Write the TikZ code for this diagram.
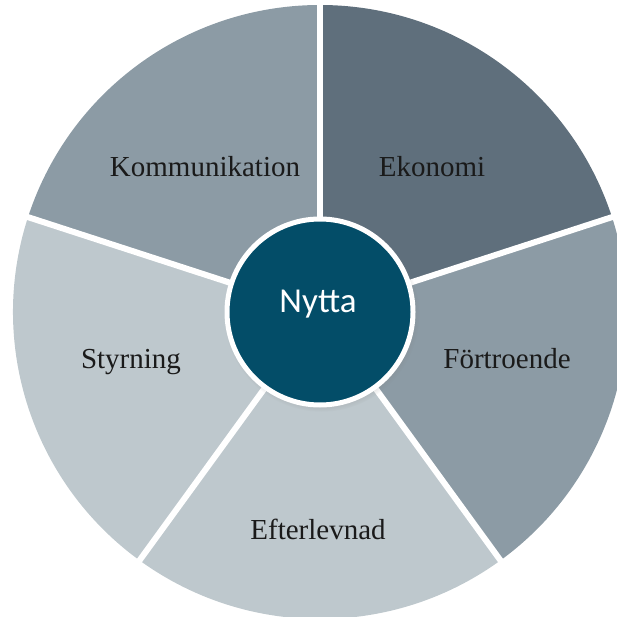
\documentclass[tikz,border=0pt]{standalone}
\usepackage{fontspec}
\setmainfont{Liberation Serif}
\newfontfamily\hubfont{Carlito}
\usetikzlibrary{positioning, shadows}
\definecolor{slatedark}{HTML}{5F6F7C}
\definecolor{slatemid}{HTML}{8C9BA5}
\definecolor{slatelight}{HTML}{BEC8CD}
\definecolor{hubblue}{HTML}{034D68}
\definecolor{labelink}{HTML}{1A1A1A}

\begin{document}
\begin{tikzpicture}
[x=1pt,y=1pt,
                    seglabel/.style={anchor=base,inner sep=0pt,text=labelink,
                    font=\fontsize{29}{33}\selectfont},
                    hub/.style={circle,fill=hubblue,draw=white,line width=5pt,
                    minimum size=186pt,inner sep=0pt,
                    circular drop shadow={shadow xshift=1.5pt,shadow yshift=-2pt,
                    shadow scale=1.05,opacity=0.45}},
                    hubtext/.style={anchor=base,inner sep=0pt,text=white,
                    font=\hubfont\fontsize{35}{40}\selectfont}]
\useasboundingbox (0,0) rectangle (617,616);
\clip (0,0) rectangle (617,616);
\coordinate (c) at (320,304);

% the five slices
\fill[slatemid] (c) -- ++(90:307) arc[start angle=90,end angle=162,radius=307] -- cycle;
\fill[slatedark] (c) -- ++(18:307) arc[start angle=18,end angle=90,radius=307] -- cycle;
\fill[slatemid] (c) -- ++(-54:307) arc[start angle=-54,end angle=18,radius=307] -- cycle;
\fill[slatelight] (c) -- ++(-126:307) arc[start angle=-126,end angle=-54,radius=307] -- cycle;
\fill[slatelight] (c) -- ++(162:307) arc[start angle=162,end angle=234,radius=307] -- cycle;
\foreach \a in {90,18,-54,-126,162}
	\draw[white,line width=6pt] (c) -- ++(\a:312);

\node[hub] (nytta) at (c) {};
\node[hubtext] (nyttalabel) at ([xshift=-2pt,yshift=-1pt]nytta.center) {Nytta};

\node[seglabel] (komm) at (205,439) {Kommunikation};
\node[seglabel] (ekon) at (432,439) {Ekonomi};
\node[seglabel] (fort) at (507,248) {Förtroende};
\node[seglabel] (efter) at (318,77) {Efterlevnad};
\node[seglabel] (styr) at (131,248) {Styrning};
\end{tikzpicture}
\end{document}
